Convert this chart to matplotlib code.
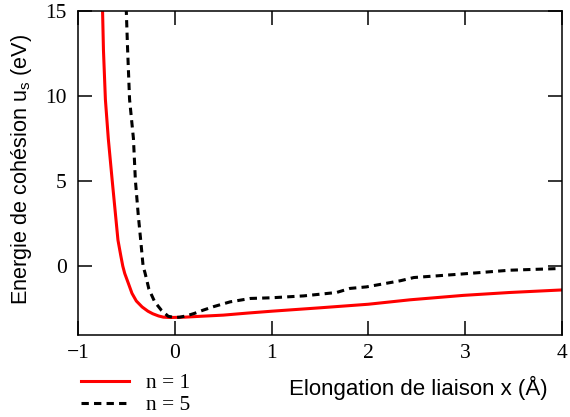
"""
Energie de cohesion vs elongation de liaison, for n = 1 and n = 5.
"""

import matplotlib
matplotlib.use("Agg")
import matplotlib.pyplot as plt

# ----------------------------------------------------------------------------
# Data
# ----------------------------------------------------------------------------
x_n1 = [-0.75, -0.74, -0.72, -0.69, -0.65, -0.59, -0.56, -0.54, -0.52, -0.48,
        -0.445, -0.40, -0.34, -0.28, -0.23, -0.17, -0.12, -0.05, 0.10, 0.26,
        0.50, 0.75, 1.00, 1.50, 2.00, 2.43, 2.98, 3.46, 4.00]
u_n1 = [15.2, 12.7, 9.8, 7.5, 5.06, 1.53, 0.59, 0.0, -0.43, -1.05,
        -1.6, -2.05, -2.4, -2.65, -2.8, -2.93, -3.0, -3.02, -3.0, -2.95,
        -2.88, -2.76, -2.65, -2.45, -2.24, -1.98, -1.72, -1.55, -1.40]

x_n5 = [-0.505, -0.49, -0.47, -0.43, -0.41, -0.38, -0.355, -0.33, -0.31, -0.27,
        -0.21, -0.14, -0.07, 0.0, 0.05, 0.12, 0.20, 0.29, 0.40, 0.57,
        0.78, 1.00, 1.33, 1.67, 1.81, 1.98, 2.33, 2.47, 2.95, 3.46, 3.98]
u_n5 = [15.2, 12.7, 9.8, 7.5, 5.06, 3.0, 1.53, 0.0, -0.4, -1.35,
        -2.1, -2.6, -2.95, -3.02, -3.0, -2.92, -2.78, -2.59, -2.38, -2.1,
        -1.9, -1.86, -1.75, -1.55, -1.31, -1.22, -0.86, -0.67, -0.47, -0.24, -0.14]

labels = ["n = 1", "n = 5"]
x_ticks = [-1, 0, 1, 2, 3, 4]
y_ticks = [0, 5, 10, 15]

# ----------------------------------------------------------------------------
# Figure
# ----------------------------------------------------------------------------
fig = plt.figure(figsize=(5.7, 4.17), dpi=100)
ax = fig.add_axes([0.1374, 0.1966, 0.8482, 0.777])

ax.plot(x_n1, u_n1, color="#ff0000", lw=2.2, label=labels[0])
ax.plot(x_n5, u_n5, color="black", lw=2.2, linestyle=(0, (2.4, 1.7)),
        label=labels[1])

ax.set_xlim(-1, 4)
ax.set_ylim(-4.05, 15)
ax.set_xticks(x_ticks)
ax.set_yticks(y_ticks)

serif = ["Liberation Serif", "DejaVu Serif"]
sans = ["Liberation Sans", "DejaVu Sans"]

ax.tick_params(direction="in", length=10, width=1.1, top=True, right=True,
               labelsize=15.5)
ax.tick_params(axis="x", pad=6.5)
ax.tick_params(axis="y", pad=8.5)
for lab in ax.get_xticklabels() + ax.get_yticklabels():
    lab.set_family(serif)
for sp in ax.spines.values():
    sp.set_linewidth(1.1)

ax.set_xlabel("Elongation de liaison x (Å)", family=sans, fontsize=16)
ax.xaxis.set_label_coords(0.704, -0.125)
ax.set_ylabel(r"Energie de cohésion u$_\mathregular{s}$ (eV)", family=sans,
              fontsize=15.6)
ax.yaxis.set_label_coords(-0.091, 0.51)

fig.legend(loc="upper left", bbox_to_anchor=(0.123, 0.131), frameon=False,
           borderpad=0, handlelength=2.23, handletextpad=0.8, labelspacing=0.1,
           prop={"family": serif, "size": 15.5})

fig.savefig("out.png", dpi=100)
